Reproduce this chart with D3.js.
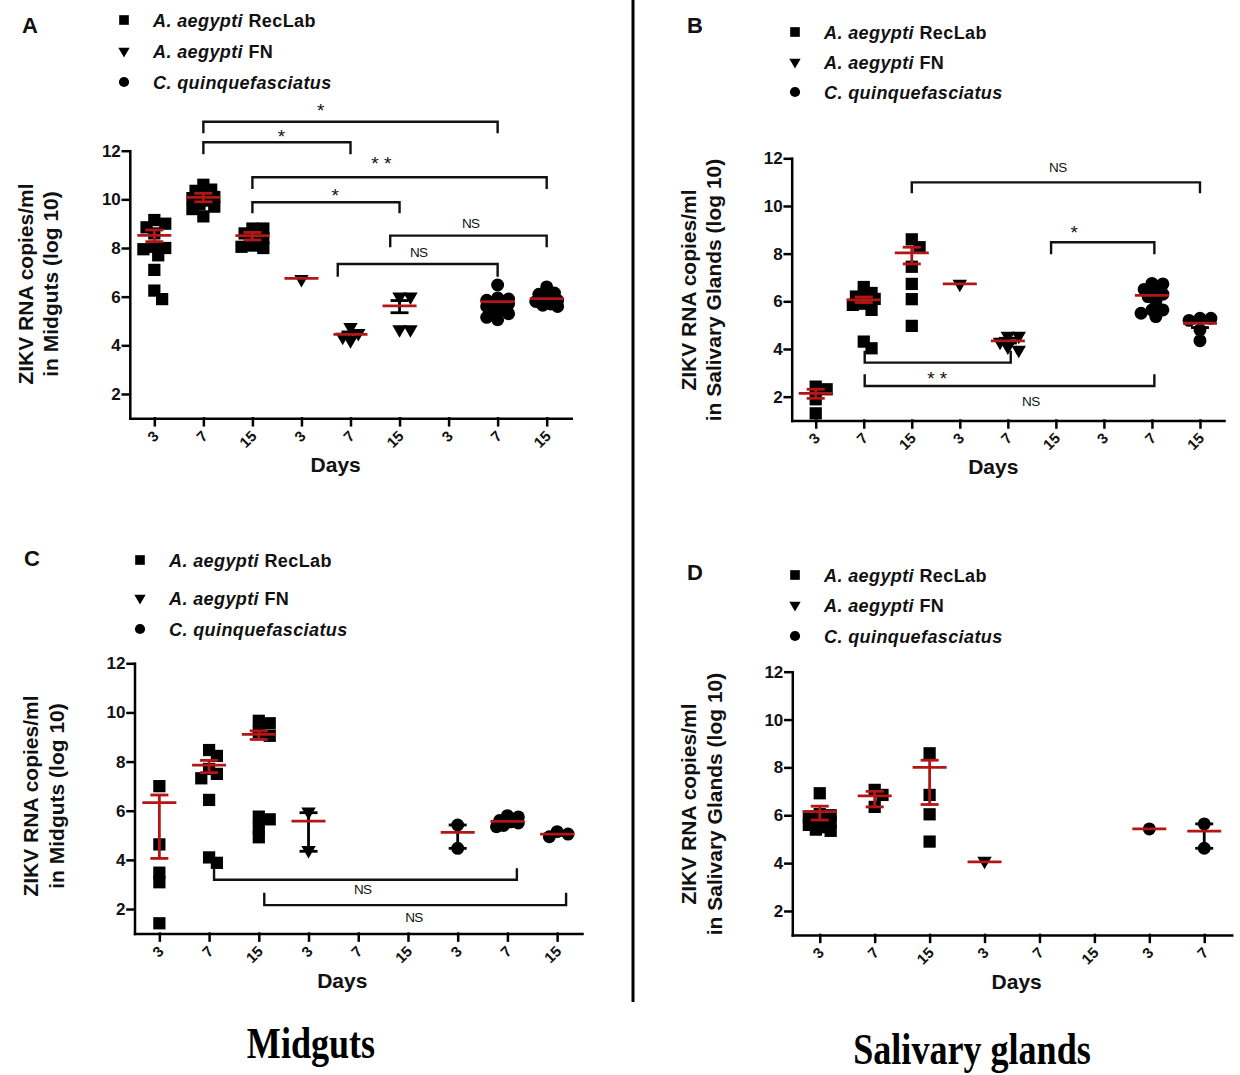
<!DOCTYPE html>
<html>
<head>
<meta charset="utf-8">
<script src="https://cdn.jsdelivr.net/npm/d3@7"></script>
<style>
  body { margin: 0; background: #fff; }
  svg { display: block; font-family: "Liberation Sans", Arial, sans-serif; }
  .axis path, .axis line { stroke: #000; stroke-width: 2.5; stroke-linecap: square; }
  .bracket { fill: none; stroke: #111; stroke-width: 2.4; }
</style>
</head>
<body>
<script>
// categories (days post infection) and which mosquito line each column belongs to
var dayLabels = ["3", "7", "15", "3", "7", "15", "3", "7", "15"];
var dayLabelsD = ["3", "7", "15", "3", "7", "15", "3", "7"];
var groupSeries = ["RecLab", "RecLab", "RecLab", "FN", "FN", "FN", "Cq", "Cq", "Cq"];
var yTickValues = [2, 4, 6, 8, 10, 12];

// A - midguts, log10 copies/ml
var valuesA = [
  [9.15, 9.0, 8.85, 8.6, 8.05, 8.0, 7.95, 7.7, 7.1, 6.25, 5.9],
  [10.6, 10.4, 10.35, 10.2, 10.1, 10.05, 9.95, 9.8, 9.7, 9.6, 9.3],
  [8.8, 8.8, 8.6, 8.5, 8.4, 8.1, 8.05, 8.0],
  [6.72],
  [4.75, 4.5, 4.35, 4.2],
  [6.0, 6.0, 4.65, 4.65],
  [],
  [6.48, 5.95, 5.9, 5.85, 5.8, 5.75, 5.7, 5.6, 5.5, 5.4, 5.3, 5.15, 5.05],
  [6.4, 6.15, 6.1, 5.95, 5.85, 5.8, 5.7, 5.65, 5.6]
];
var meanA = [8.52, 10.08, 8.51, 6.75, 4.45, 5.62, null, 5.8, 5.92];
var errLoA = [8.26, 9.9, 8.33, null, 4.35, 5.34, null, 5.65, 5.8];
var errHiA = [8.74, 10.25, 8.64, null, 4.55, 5.84, null, 5.95, 6.05];

// B - salivary glands
var valuesB = [
  [2.42, 2.31, 1.89, 1.3],
  [6.6, 6.35, 6.2, 6.2, 6.1, 6.0, 5.9, 5.85, 5.64, 4.31, 4.03],
  [8.6, 8.27, 7.45, 6.73, 6.09, 4.97],
  [6.73],
  [4.55, 4.55, 4.3, 4.1, 3.96],
  [],
  [],
  [6.75, 6.73, 6.5, 6.4, 6.3, 6.2, 6.0, 5.64, 5.64, 5.5, 5.36],
  [5.29, 5.29, 5.2, 4.8, 4.35]
];
var meanB = [2.14, 6.06, 8.03, 6.73, 4.34, null, null, 6.25, 5.08];
var errLoB = [1.93, 5.95, 7.57, null, 4.25, null, null, 6.1, 4.9];
var errHiB = [2.31, 6.18, 8.27, null, 4.45, null, null, 6.4, 5.25];

// C - midguts
var valuesC = [
  [7.0, 4.63, 3.48, 3.09, 1.42],
  [8.47, 8.23, 7.7, 7.5, 7.32, 6.44, 4.1, 3.88],
  [9.66, 9.56, 9.2, 9.05, 5.76, 5.65, 5.31, 4.92],
  [5.96, 4.4],
  [],
  [],
  [5.42, 4.47],
  [5.8, 5.75, 5.6, 5.55, 5.5, 5.4, 5.35],
  [5.15, 5.05, 4.94]
];
var meanC = [6.33, 7.86, 9.11, 5.58, null, null, 5.12, 5.57, 5.05];
var errLoC = [4.06, 7.55, 8.9, 4.35, null, null, 4.47, 5.5, 5.0];
var errHiC = [6.64, 8.05, 9.25, 5.92, null, null, 5.42, 5.65, 5.1];

// D - salivary glands
var valuesD = [
  [6.92, 6.05, 6.0, 5.95, 5.9, 5.8, 5.7, 5.6, 5.5, 5.4, 5.35],
  [7.06, 6.85, 6.35],
  [8.59, 6.85, 6.04, 4.9],
  [4.09],
  [],
  [],
  [5.43],
  [5.64, 4.62]
];
var meanD = [6.15, 6.81, 8.0, 4.05, null, null, 5.43, 5.34];
var errLoD = [5.8, 6.35, 6.45, null, null, null, null, 4.62];
var errHiD = [6.38, 7.0, 8.3, null, null, null, null, 5.64];

// significance brackets: column index from/to, bar level, end of the legs, label and its centre
var bracketsA = [
  {from: 1, to: 7, y: 13.19, leg: 12.72, label: "*", lx: 3.39, ly: 13.81},
  {from: 1, to: 4, y: 12.35, leg: 11.85, label: "*", lx: 2.59, ly: 12.76},
  {from: 2, to: 8, y: 10.91, leg: 10.43, label: "* *", lx: 4.63, ly: 11.62},
  {from: 2, to: 5, y: 9.88, leg: 9.43, label: "*", lx: 3.69, ly: 10.31},
  {from: 4.81, to: 8, y: 8.51, leg: 8.03, label: "NS", lx: 6.45, ly: 9.02},
  {from: 3.74, to: 7, y: 7.34, leg: 6.82, label: "NS", lx: 5.39, ly: 7.81}
];
var bracketsB = [
  {from: 2, to: 8, y: 10.99, leg: 10.53, label: "NS", lx: 5.04, ly: 11.62},
  {from: 4.9, to: 7.05, y: 8.48, leg: 7.97, label: "*", lx: 5.38, ly: 9.06},
  {from: 1.02, to: 4.06, y: 3.43, leg: 3.93, label: "* *", lx: 2.53, ly: 2.91},
  {from: 1.02, to: 7.05, y: 2.45, leg: 2.94, label: "NS", lx: 4.48, ly: 1.83}
];
var bracketsC = [
  {from: 1.1, to: 7.19, y: 3.19, leg: 3.66, label: "NS", lx: 4.09, ly: 2.8},
  {from: 2.11, to: 8.18, y: 2.16, leg: 2.66, label: "NS", lx: 5.12, ly: 1.69}
];

var legendItems = [
  {key: "RecLab", italic: "A. aegypti", plain: " RecLab"},
  {key: "FN", italic: "A. aegypti", plain: " FN"},
  {key: "Cq", italic: "C. quinquefasciatus", plain: ""}
];

var RED = "#b31616";
var symbolType = {RecLab: d3.symbolSquare, FN: d3.symbolTriangle, Cq: d3.symbolCircle};
var symbolSize = {RecLab: 150, FN: 90, Cq: 132};
var errColor = {RecLab: RED, FN: "#000", Cq: "#000"};

var svg = d3.select("body").append("svg").attr("width", 1240).attr("height", 1075);

function symbolPath(key, scale) {
  return d3.symbol().type(symbolType[key]).size(symbolSize[key] * (scale || 1))();
}

// compact beeswarm so points at close values sit side by side (overlap allowed)
function swarm(vals, y, size) {
  var placed = [];
  var sorted = vals.slice().sort(function(a, b) { return b - a; });
  var step = size * 0.6, minD = size * 0.7;
  sorted.forEach(function(v) {
    var py = y(v), best = null, bestD = -1;
    var offs = [0, 1, -1, 0.5, -0.5, 1.4, -1.4];
    for (var k = 0; k < offs.length; k++) {
      var dx = offs[k] * step, d = Infinity;
      placed.forEach(function(p) {
        d = Math.min(d, Math.sqrt((p.dx - dx) * (p.dx - dx) + (p.py - py) * (p.py - py)));
      });
      if (d >= minD) { best = dx; break; }
      if (d > bestD) { bestD = d; best = dx; }
    }
    placed.push({v: v, dx: best, py: py});
  });
  return placed;
}

function drawPanel(p) {
  var n = p.labels.length;
  var x = d3.scaleLinear().domain([-0.5, n - 0.5]).range([p.x0, p.x1]);
  var y = d3.scaleLinear().domain([1, 12]).range([p.yBottom, p.yTop]);
  var g = svg.append("g");

  var ya = g.append("g").attr("class", "axis")
    .attr("transform", "translate(" + p.x0 + ",0)")
    .call(d3.axisLeft(y).tickValues(yTickValues).tickSize(7).tickSizeOuter(0).tickPadding(2));
  ya.selectAll(".tick text")
    .style("font-family", "'Liberation Sans', Arial, sans-serif")
    .style("font-size", "17px").style("font-weight", "bold").attr("fill", "#111");

  var xa = g.append("g").attr("class", "axis")
    .attr("transform", "translate(0," + p.yBottom + ")")
    .call(d3.axisBottom(x).tickValues(d3.range(n))
      .tickFormat(function(i) { return p.labels[i]; })
      .tickSize(7).tickSizeOuter(0));
  xa.selectAll(".tick text")
    .style("font-family", "'Liberation Sans', Arial, sans-serif")
    .style("font-size", "15px").style("font-weight", "bold").attr("fill", "#111")
    .attr("text-anchor", "end")
    .attr("y", 0).attr("dy", "0.35em")
    .attr("transform", "translate(1,15) rotate(-45)");

  g.append("text")
    .attr("x", p.daysX).attr("y", p.daysY)
    .attr("text-anchor", "middle")
    .style("font-size", "21px").style("font-weight", "bold").attr("fill", "#111")
    .text("Days");

  p.ylabel.forEach(function(line, i) {
    g.append("text")
      .attr("transform", "translate(" + p.ylabelX[i] + "," + p.ylabelY + ") rotate(-90)")
      .attr("text-anchor", "middle")
      .style("font-size", "21px").style("font-weight", "bold").attr("fill", "#111")
      .text(line);
  });

  // scatter points
  p.values.forEach(function(vals, i) {
    var key = groupSeries[i];
    var pts = swarm(vals, y, 13);
    g.selectAll(null).data(pts).enter().append("path")
      .attr("d", symbolPath(key))
      .attr("fill", "#000")
      .attr("transform", function(d) {
        return "translate(" + (x(i) + d.dx) + "," + d.py + ")" + (key === "FN" ? " rotate(180)" : "");
      });
  });

  // mean and error bars
  p.mean.forEach(function(m, i) {
    if (m === null) return;
    var cx = x(i), key = groupSeries[i];
    if (p.errLo[i] !== null) {
      var c = errColor[key];
      g.append("line").attr("x1", cx).attr("x2", cx)
        .attr("y1", y(p.errLo[i])).attr("y2", y(p.errHi[i]))
        .attr("stroke", c).attr("stroke-width", 2.8);
      [p.errLo[i], p.errHi[i]].forEach(function(e) {
        g.append("line").attr("x1", cx - 9).attr("x2", cx + 9)
          .attr("y1", y(e)).attr("y2", y(e))
          .attr("stroke", c).attr("stroke-width", 2.8);
      });
    }
    g.append("line").attr("x1", cx - 17).attr("x2", cx + 17)
      .attr("y1", y(m)).attr("y2", y(m))
      .attr("stroke", RED).attr("stroke-width", 2.8);
  });

  // brackets
  (p.brackets || []).forEach(function(b) {
    g.append("path").attr("class", "bracket")
      .attr("d", "M" + x(b.from) + "," + y(b.leg) + "V" + y(b.y) + "H" + x(b.to) + "V" + y(b.leg));
    var star = b.label.indexOf("*") >= 0;
    var fs = star ? 19 : 13.5;
    g.append("text")
      .attr("x", x(b.lx))
      .attr("y", y(b.ly) + (star ? 0.55 * fs : 0.36 * fs))
      .attr("text-anchor", "middle")
      .style("font-size", fs + "px")
      .style("letter-spacing", star ? "0px" : "-0.6px")
      .attr("fill", "#111")
      .text(b.label);
  });

  // panel letter
  svg.append("text").attr("x", p.letterX).attr("y", p.letterY)
    .style("font-size", "22px").style("font-weight", "bold").attr("fill", "#111").text(p.letter);

  // legend
  var lg = svg.append("g");
  legendItems.forEach(function(it, i) {
    var ly = p.legendY[i];
    lg.append("path")
      .attr("d", symbolPath(it.key, 0.62))
      .attr("fill", "#000")
      .attr("transform", "translate(" + p.legendX + "," + ly + ")" + (it.key === "FN" ? " rotate(180)" : ""));
    var t = lg.append("text").attr("x", p.legendX + 29).attr("y", ly + 6.5)
      .style("font-size", "18px").style("font-weight", "bold")
      .style("letter-spacing", "0.4px").attr("fill", "#111");
    t.append("tspan").style("font-style", "italic").text(it.italic);
    if (it.plain) t.append("tspan").text(it.plain);
  });
}

drawPanel({
  letter: "A", letterX: 22, letterY: 33,
  labels: dayLabels, values: valuesA, mean: meanA, errLo: errLoA, errHi: errHiA, brackets: bracketsA,
  x0: 129.8, x1: 571.2, yTop: 150.7, yBottom: 418.3,
  daysX: 335.7, daysY: 472,
  ylabel: ["ZIKV RNA copies/ml", "in Midguts (log 10)"], ylabelX: [33, 58], ylabelY: 284,
  legendX: 124, legendY: [20, 51, 82]
});
drawPanel({
  letter: "B", letterX: 687, letterY: 33,
  labels: dayLabels, values: valuesB, mean: meanB, errLo: errLoB, errHi: errHiB, brackets: bracketsB,
  x0: 791.7, x1: 1224, yTop: 158.3, yBottom: 420.5,
  daysX: 993.3, daysY: 474,
  ylabel: ["ZIKV RNA copies/ml", "in Salivary Glands (log 10)"], ylabelX: [696, 721], ylabelY: 290,
  legendX: 795, legendY: [32, 62, 92]
});
drawPanel({
  letter: "C", letterX: 24, letterY: 566,
  labels: dayLabels, values: valuesC, mean: meanC, errLo: errLoC, errHi: errHiC, brackets: bracketsC,
  x0: 134.5, x1: 582, yTop: 663.3, yBottom: 933.6,
  daysX: 342.3, daysY: 988,
  ylabel: ["ZIKV RNA copies/ml", "in Midguts (log 10)"], ylabelX: [38, 64], ylabelY: 796,
  legendX: 140, legendY: [560, 598, 629]
});
drawPanel({
  letter: "D", letterX: 687, letterY: 580,
  labels: dayLabelsD, values: valuesD, mean: meanD, errLo: errLoD, errHi: errHiD, brackets: [],
  x0: 792.3, x1: 1231.7, yTop: 671.7, yBottom: 934.9,
  daysX: 1016.7, daysY: 989,
  ylabel: ["ZIKV RNA copies/ml", "in Salivary Glands (log 10)"], ylabelX: [696, 722], ylabelY: 804,
  legendX: 795, legendY: [575, 605, 636]
});

// divider between midgut and salivary gland columns
svg.append("line").attr("x1", 633).attr("x2", 633).attr("y1", 0).attr("y2", 1002)
  .attr("stroke", "#000").attr("stroke-width", 3);

// column titles
[{t: "Midguts", x: 311, y: 1058}, {t: "Salivary glands", x: 972, y: 1064}].forEach(function(d) {
  svg.append("text")
    .attr("transform", "translate(" + d.x + "," + d.y + ") scale(0.82,1)")
    .attr("text-anchor", "middle")
    .style("font-family", "'Liberation Serif', 'Times New Roman', serif")
    .style("font-size", "44px").style("font-weight", "bold")
    .text(d.t);
});
</script>
</body>
</html>
